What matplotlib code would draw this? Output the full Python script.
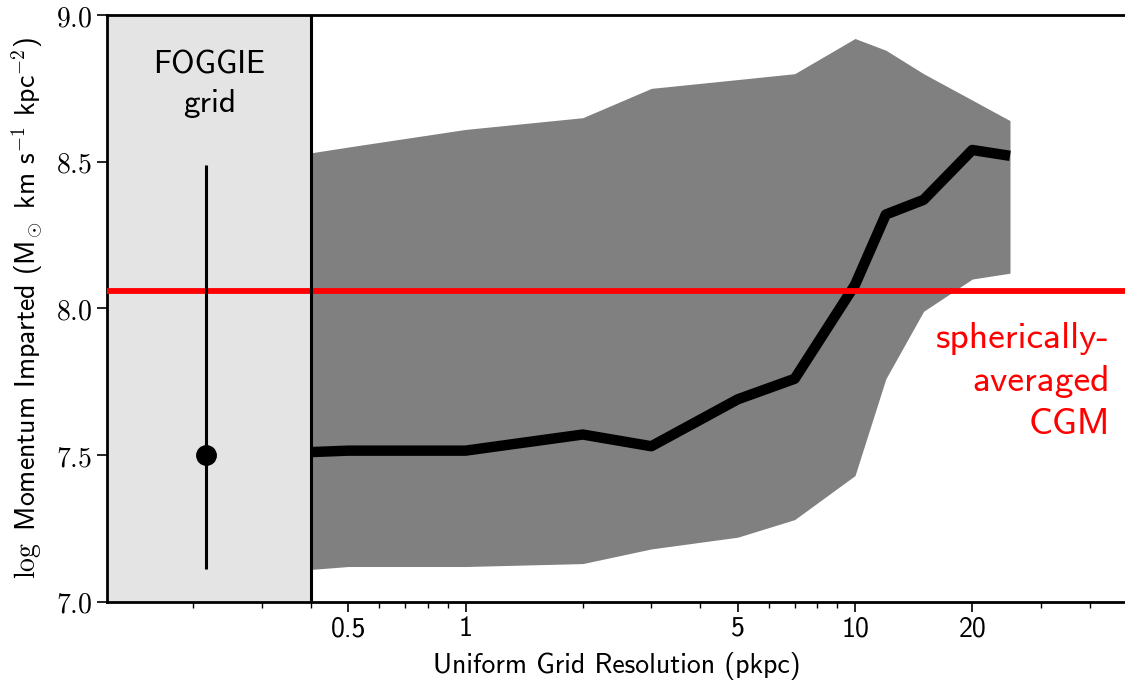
import numpy as np
import matplotlib
matplotlib.use("Agg")
import matplotlib.pyplot as plt
from matplotlib.ticker import FixedLocator, FixedFormatter, NullFormatter

plt.rcParams['mathtext.fontset'] = 'cm'
plt.rcParams['axes.unicode_minus'] = False

# resolucion de la malla uniforme (pkpc)
resolucion = [0.4, 0.5, 1, 2, 3, 5, 7, 10, 12, 15, 20, 25]
momento_med = [7.51, 7.515, 7.515, 7.57, 7.53, 7.69, 7.76, 8.08, 8.32, 8.37, 8.54, 8.52]
momento_alto = [8.53, 8.55, 8.61, 8.65, 8.75, 8.78, 8.80, 8.92, 8.88, 8.80, 8.71, 8.64]
momento_bajo = [7.11, 7.12, 7.12, 7.13, 7.18, 7.22, 7.28, 7.43, 7.76, 7.99, 8.10, 8.12]

# FOGGIE
foggie_x = 0.216
foggie_med = 7.50
foggie_bajo = 7.11
foggie_alto = 8.49

cgm_esferico = 8.06

x_ticks = [0.5, 1, 5, 10, 20]
x_tick_labels = ['0.5', '1', '5', '10', '20']
y_ticks = [7.0, 7.5, 8.0, 8.5, 9.0]

fig = plt.figure(figsize=(11.25, 6.83), dpi=100)
ax = fig.add_axes([0.095, 0.119, 0.907, 0.859])
ax.set_xscale('log')
ax.set_xlim(0.12, 50)
ax.set_ylim(7.0, 9.0)

ax.axvspan(0.12, 0.4, color='#e4e4e4', zorder=0)
ax.fill_between(resolucion, momento_bajo, momento_alto, color='#808080', lw=0, zorder=1)
ax.plot(resolucion, momento_med, color='k', lw=7.5, solid_capstyle='butt', zorder=2)
ax.axhline(cgm_esferico, color='red', lw=4.2, zorder=3)
ax.axvline(0.4, color='k', lw=2.2, zorder=4)
ax.errorbar([foggie_x], [foggie_med],
            yerr=[[foggie_med - foggie_bajo], [foggie_alto - foggie_med]],
            fmt='o', color='k', ms=14, elinewidth=2.2, capsize=0, zorder=5)

ax.text(0.22, 8.83, 'FOGGIE', family='cmss10', fontsize=23, ha='center', va='center')
ax.text(0.22, 8.70, 'grid', family='cmss10', fontsize=24, ha='center', va='center')
ax.text(45.2, 7.75, 'spherically-\naveraged\nCGM', family='cmss10', fontsize=27,
        color='red', ha='right', va='center', linespacing=1.38, multialignment='right')

ax.xaxis.set_major_locator(FixedLocator(x_ticks))
ax.xaxis.set_major_formatter(FixedFormatter(x_tick_labels))
ax.xaxis.set_minor_formatter(NullFormatter())
ax.set_yticks(y_ticks)
ax.set_yticklabels(['$%.1f$' % v for v in y_ticks])
for lab in ax.get_xticklabels():
    lab.set_family('cmss10')
ax.tick_params(axis='x', which='major', labelsize=20, length=7, width=1.2, direction='out')
ax.tick_params(axis='x', which='minor', length=4, width=1.0, direction='out')
ax.tick_params(axis='y', which='major', labelsize=20, length=7, width=1.2, direction='out')
ax.tick_params(top=False, right=False, which='both')

for s in ['left', 'top', 'bottom']:
    ax.spines[s].set_linewidth(2.0)
ax.spines['right'].set_visible(False)

ax.set_xlabel('Uniform Grid Resolution (pkpc)', family='cmss10', fontsize=20, labelpad=8)
ax.set_ylabel(r'$\log$ Momentum Imparted ($\mathsf{M}_{\!\odot}$ km s$^{-1}$ kpc$^{-2}$)',
              family='cmss10', fontsize=20, labelpad=8)

fig.savefig('out.png', dpi=100)
